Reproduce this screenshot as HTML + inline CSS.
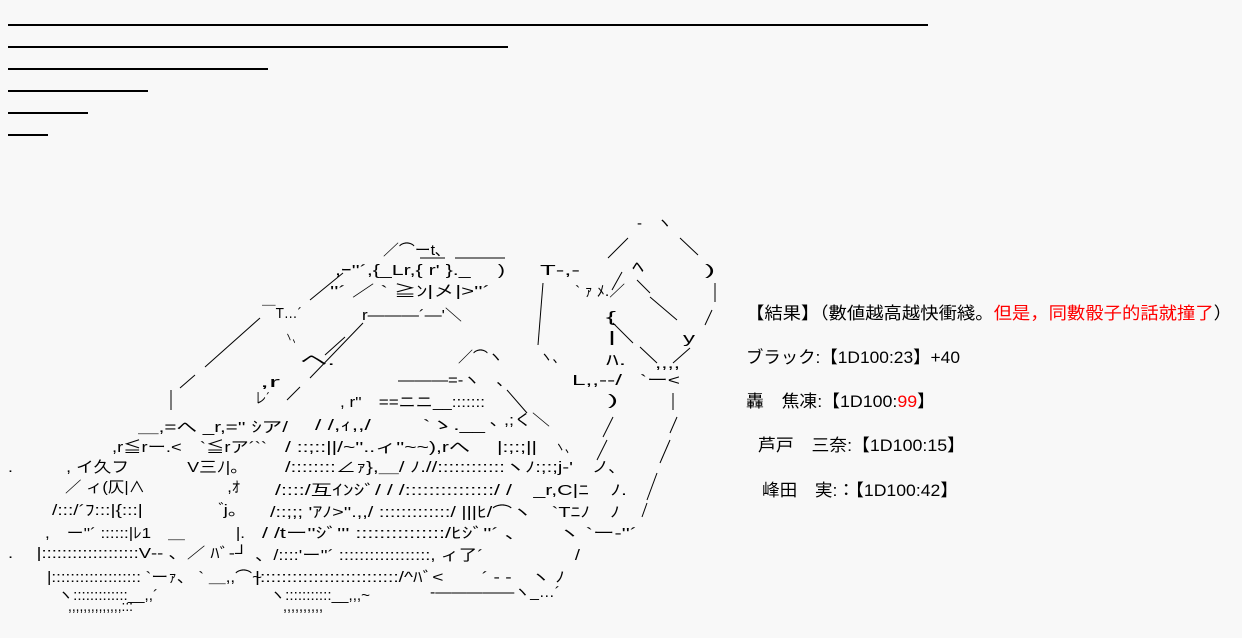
<!DOCTYPE html>
<html><head><meta charset="utf-8"><style>
html,body{margin:0;padding:0;background:#f8f8f8;}
svg{display:block;}
text{font-family:"Liberation Sans","Noto Sans CJK JP",sans-serif;fill:#000;}
.a{font-size:15px;}
.r{font-size:17px;}
</style></head><body>
<svg width="1242" height="638" viewBox="0 0 1242 638" xmlns="http://www.w3.org/2000/svg">
<g stroke="#000" stroke-width="2">
<line x1="8" y1="25" x2="928" y2="25"/>
<line x1="8" y1="47" x2="508" y2="47"/>
<line x1="8" y1="69" x2="268" y2="69"/>
<line x1="8" y1="91" x2="148" y2="91"/>
<line x1="8" y1="113" x2="88" y2="113"/>
<line x1="8" y1="135" x2="48" y2="135"/>
</g>
<g stroke="#000" stroke-width="1" fill="none">
<line x1="180" y1="388" x2="195" y2="375"/>
<line x1="205" y1="367" x2="260" y2="318"/>
<line x1="171" y1="390" x2="171" y2="410"/>
<line x1="287" y1="400" x2="300" y2="387"/>
<line x1="310" y1="378" x2="363" y2="323"/>
<line x1="310" y1="300" x2="343" y2="273"/>
<line x1="325" y1="355" x2="345" y2="337"/>
<line x1="420" y1="258" x2="445" y2="258"/>
<line x1="455" y1="258" x2="505" y2="258"/>
<line x1="543" y1="283" x2="538" y2="345"/>
<line x1="608" y1="258" x2="628" y2="238"/>
<line x1="680" y1="238" x2="698" y2="255"/>
<line x1="715" y1="283" x2="715" y2="302"/>
<line x1="712" y1="310" x2="705" y2="325"/>
<line x1="637" y1="280" x2="650" y2="293"/>
<line x1="650" y1="297" x2="677" y2="320"/>
<line x1="613" y1="323" x2="633" y2="343"/>
<line x1="640" y1="347" x2="657" y2="363"/>
<line x1="673" y1="363" x2="690" y2="348"/>
<line x1="612" y1="290" x2="622" y2="272"/>
<line x1="507" y1="390" x2="527" y2="413"/>
<line x1="673" y1="393" x2="673" y2="410"/>
<line x1="677" y1="417" x2="670" y2="433"/>
<line x1="670" y1="440" x2="660" y2="463"/>
<line x1="657" y1="473" x2="647" y2="500"/>
<line x1="647" y1="503" x2="642" y2="517"/>
<line x1="613" y1="417" x2="603" y2="437"/>
<line x1="607" y1="440" x2="597" y2="460"/>
</g>
<g class="a">
<text x="637" y="228" textLength="35" lengthAdjust="spacingAndGlyphs">‐　ヽ</text>
<text x="383" y="255" textLength="60" lengthAdjust="spacingAndGlyphs">／⌒ーt､</text>
<text x="335" y="275" textLength="170" lengthAdjust="spacingAndGlyphs">,ｰ''´,{_Lr,{ r' }._　 )</text>
<text x="540" y="275" textLength="40" lengthAdjust="spacingAndGlyphs">T‐,-</text>
<text x="705" y="275" textLength="10" lengthAdjust="spacingAndGlyphs">)</text>
<text x="632" y="272" textLength="12" lengthAdjust="spacingAndGlyphs">ﾍ</text>
<text x="330" y="296" textLength="160" lengthAdjust="spacingAndGlyphs">''´ ／ ` ≧ﾝ|㐅|>''´</text>
<text x="575" y="296" textLength="50" lengthAdjust="spacingAndGlyphs">` ｧ ﾒ.／</text>
<text x="262" y="318" textLength="40" lengthAdjust="spacingAndGlyphs">￣T…´</text>
<text x="362" y="320" textLength="100" lengthAdjust="spacingAndGlyphs">r―――´―'＼</text>
<text x="606" y="322" textLength="10" lengthAdjust="spacingAndGlyphs">{</text>
<text x="608" y="342" textLength="8" lengthAdjust="spacingAndGlyphs">|</text>
<text x="683" y="343" textLength="12" lengthAdjust="spacingAndGlyphs">y</text>
<text x="285" y="342" textLength="15" lengthAdjust="spacingAndGlyphs">ヽ、</text>
<text x="300" y="365" textLength="35" lengthAdjust="spacingAndGlyphs">ヘ.</text>
<text x="458" y="362" textLength="45" lengthAdjust="spacingAndGlyphs">／⌒ヽ</text>
<text x="540" y="362" textLength="25" lengthAdjust="spacingAndGlyphs">ヽ、</text>
<text x="606" y="365" textLength="20" lengthAdjust="spacingAndGlyphs">ﾊ.</text>
<text x="655" y="368" textLength="25" lengthAdjust="spacingAndGlyphs">,,,,</text>
<text x="260" y="387" textLength="20" lengthAdjust="spacingAndGlyphs">,r</text>
<text x="398" y="385" textLength="107" lengthAdjust="spacingAndGlyphs">―――=‐ヽ　､</text>
<text x="572" y="385" textLength="50" lengthAdjust="spacingAndGlyphs">L,,‐‐/</text>
<text x="640" y="385" textLength="40" lengthAdjust="spacingAndGlyphs">`ー&lt;</text>
<text x="255" y="403" textLength="15" lengthAdjust="spacingAndGlyphs">レ´</text>
<text x="340" y="407" textLength="145" lengthAdjust="spacingAndGlyphs">, r''　==ニニ__:::::::</text>
<text x="608" y="405" textLength="10" lengthAdjust="spacingAndGlyphs">)</text>
<text x="315" y="430" textLength="170" lengthAdjust="spacingAndGlyphs">/ /,ｨ,,/　　 `ゝ.__</text>
<text x="490" y="425" textLength="60" lengthAdjust="spacingAndGlyphs">､ ,;く＼</text>
<text x="138" y="432" textLength="150" lengthAdjust="spacingAndGlyphs">＿,=へ _r,='' ｼア/</text>
<text x="112" y="452" textLength="155" lengthAdjust="spacingAndGlyphs">,r≦rー.&lt;　`≦rア´``</text>
<text x="285" y="452" textLength="252" lengthAdjust="spacingAndGlyphs">/ ::;::||/~''..ィ''~~),rへ　 |:;:;||</text>
<text x="555" y="452" textLength="20" lengthAdjust="spacingAndGlyphs">ヽ、</text>
<text x="8" y="472" textLength="240" lengthAdjust="spacingAndGlyphs">.　　　, イ久フ　　　 V三ﾉ|。</text>
<text x="285" y="472" textLength="288" lengthAdjust="spacingAndGlyphs">/::::::::∠ｧ},＿/ ﾉ.//::::::::::::ヽﾉ:;:;j‐'</text>
<text x="592" y="472" textLength="25" lengthAdjust="spacingAndGlyphs">ノ､</text>
<text x="65" y="492" textLength="175" lengthAdjust="spacingAndGlyphs">／ ィ(仄|∧　　　　　,ｵ</text>
<text x="275" y="495" textLength="352" lengthAdjust="spacingAndGlyphs">/::::/互ｲﾝｼﾞ/ / /:::::::::::::::/ /　_r,C|ﾆ　ﾉ.</text>
<text x="52" y="515" textLength="195" lengthAdjust="spacingAndGlyphs">/:::/´ﾌ:::|{:::|　　　　 ゙j。</text>
<text x="270" y="517" textLength="350" lengthAdjust="spacingAndGlyphs">/::;;; 'ｱﾉ>''.,,/ :::::::::::::/ |||ﾋ/⌒ヽ　`Tﾆﾉ　ﾉ</text>
<text x="45" y="538" textLength="200" lengthAdjust="spacingAndGlyphs">,　ー''´ ::::::|ﾚ1　＿　　　|.</text>
<text x="262" y="538" textLength="375" lengthAdjust="spacingAndGlyphs">/ /tー''ｼﾞ''' :::::::::::::::/ﾋｼﾞ''´ 、　　ヽ `ー‐''´</text>
<text x="8" y="558" textLength="240" lengthAdjust="spacingAndGlyphs">.　 |:::::::::::::::::::V‐‐ 、／ ﾊﾞ‐┘</text>
<text x="255" y="560" textLength="325" lengthAdjust="spacingAndGlyphs">、/::::'ー''´ ::::::::::::::::::, ィ了´　　　　　/</text>
<text x="47" y="582" textLength="215" lengthAdjust="spacingAndGlyphs">|::::::::::::::::::: `ーｧ、 ` ＿,,⌒~</text>
<text x="255" y="582" textLength="310" lengthAdjust="spacingAndGlyphs">|::::::::::::::::::::::::::/^ﾊﾞ&lt;　　´ ‐ ‐　ヽ ﾉ</text>
<text x="58" y="600" textLength="100" lengthAdjust="spacingAndGlyphs">ヽ:::::::::::::__,,´</text>
<text x="270" y="600" textLength="100" lengthAdjust="spacingAndGlyphs">ヽ:::::::::::__,,,~</text>
<text x="430" y="597" textLength="130" lengthAdjust="spacingAndGlyphs">‐―――――ヽ_…´</text>
<text x="68" y="611" textLength="65" lengthAdjust="spacingAndGlyphs">,,,,,,,,,,,,,,:::</text>
<text x="283" y="611" textLength="40" lengthAdjust="spacingAndGlyphs">,,,,,,,,,,</text>
</g>
<g class="r">
<text x="746" y="319" textLength="486" lengthAdjust="spacingAndGlyphs">【結果】（數値越高越快衝綫。<tspan fill="#ff0000">但是，同數骰子的話就撞了</tspan>）</text>
<text x="746" y="363" textLength="214" lengthAdjust="spacingAndGlyphs">ブラック:【1D100:23】+40</text>
<text x="746" y="407" textLength="189" lengthAdjust="spacingAndGlyphs">轟　焦凍:【1D100:<tspan fill="#ff0000">99</tspan>】</text>
<text x="758" y="451" textLength="207" lengthAdjust="spacingAndGlyphs">芦戸　三奈:【1D100:15】</text>
<text x="762" y="496" textLength="196" lengthAdjust="spacingAndGlyphs">峰田　実:：【1D100:42】</text>
</g>
</svg>
</body></html>
